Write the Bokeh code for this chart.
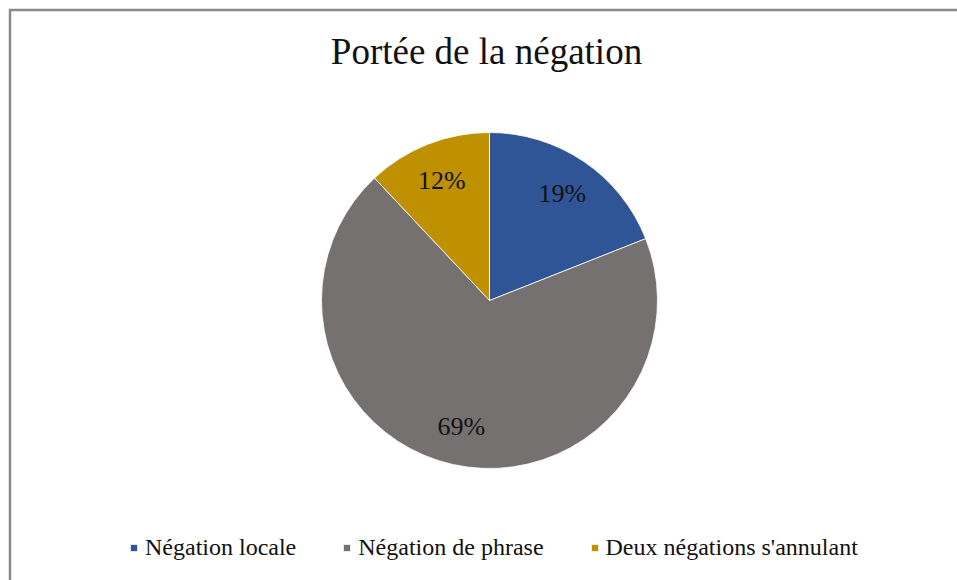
import numpy as np
from bokeh.plotting import figure
from bokeh.models import Range1d, Legend, LegendItem, ColumnDataSource
from bokeh.embed import file_html
from bokeh.resources import INLINE
from bokeh.core.properties import value

# ---- data ----
title_text = "Portée de la négation"
categories = ["Négation locale", "Négation de phrase", "Deux négations s'annulant"]
percentages = [19, 69, 12]
colors = ["#2F5597", "#767171", "#BF9000"]

# ---- layout ----
W, H = 949, 572
BORDER = 3
FW, FH = W - BORDER, H - BORDER
CX, CY, R = 478, 280, 168
FONT = "Liberation Serif"

p = figure(width=W, height=H, output_backend="svg", toolbar_location=None,
           margin=(8, 0, 0, 8),
           x_range=Range1d(0, FW), y_range=Range1d(0, FH),
           x_axis_type=None, y_axis_type=None,
           min_border_left=BORDER, min_border_top=BORDER,
           min_border_right=0, min_border_bottom=0,
           border_fill_color="#8a8a8a", background_fill_color="white",
           outline_line_color=None)

frac = np.array(percentages, dtype=float) / sum(percentages)
cum = np.cumsum(frac)
start = np.pi / 2 - 2 * np.pi * (cum - frac)
end = np.pi / 2 - 2 * np.pi * cum
mid = (start + end) / 2

src = ColumnDataSource(dict(
    cat=categories, color=colors, start=start, end=end,
    x=[CX] * len(categories), y=[CY] * len(categories),
    lx=CX + 0.77 * R * np.cos(mid), ly=CY + 0.77 * R * np.sin(mid),
    lab=[f"{v}%" for v in percentages],
))

w = p.wedge(x="x", y="y", radius=R, radius_units="screen",
            start_angle="start", end_angle="end", direction="clock",
            fill_color="color", line_color="white", line_width=0.8, source=src)

p.text(x="lx", y="ly", text="lab", source=src, text_align="center",
       text_baseline="middle", text_font=value(FONT), text_font_size="26px",
       text_color="#111111")

p.text(x=[FW / 2 + 2], y=[FH - 40], text=[title_text], text_align="center",
       text_baseline="middle", text_font=value(FONT), text_font_size="37px",
       text_color="#111111")

legend = Legend(items=[LegendItem(label=c, renderers=[w], index=i) for i, c in enumerate(categories)],
                orientation="horizontal", location=(118, 19),
                glyph_width=9, glyph_height=9, label_standoff=7, spacing=46,
                padding=0, margin=0, border_line_color=None, background_fill_alpha=0,
                label_text_font=FONT, label_text_font_size="24px",
                label_text_color="#111111")
p.add_layout(legend)

open("out.html", "w").write(file_html(p, INLINE))
